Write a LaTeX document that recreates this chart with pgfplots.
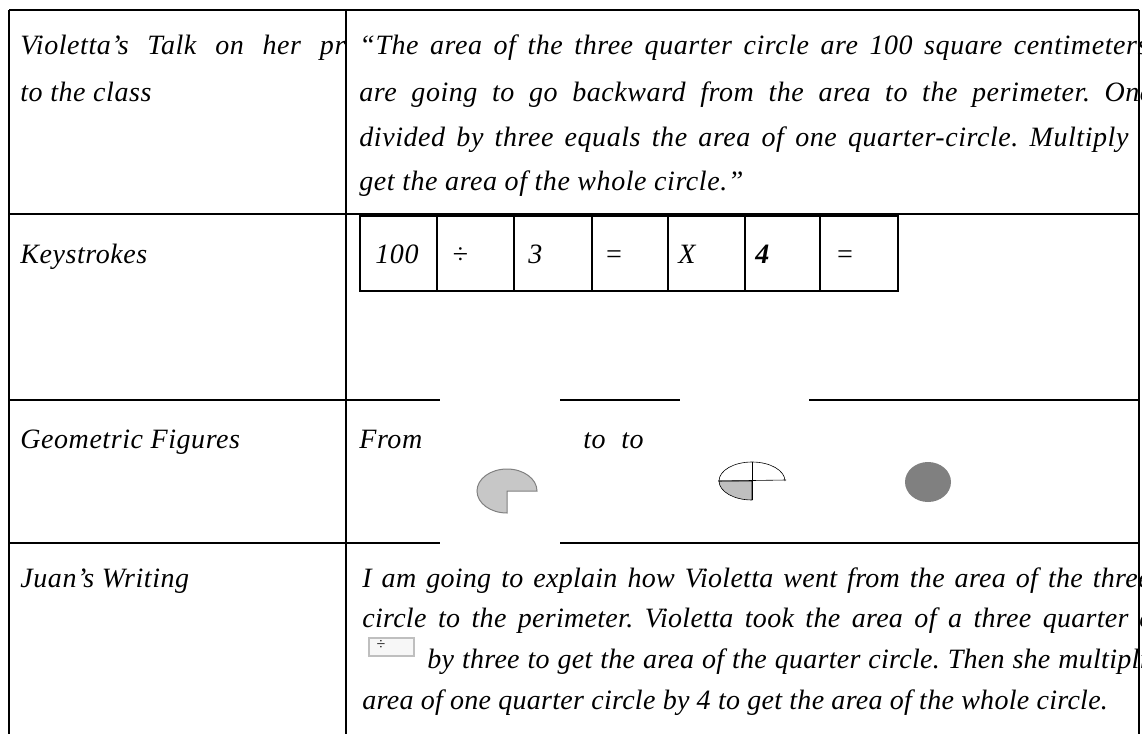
\documentclass[border=0pt]{standalone}
\usepackage{fontspec}
\setmainfont{Liberation Serif}[LetterSpace=2]
\newfontfamily\juanfont{Liberation Serif}[LetterSpace=1]
\usepackage{pgfplots}
\pgfplotsset{compat=1.18}

% px grid: 1 px = 0.5 pt, y measured downward from the top edge
\newcommand{\txt}{\fontsize{14}{17}\selectfont\itshape\frenchspacing}
\newcommand{\jtxt}{\juanfont\fontsize{14}{17}\selectfont\itshape\frenchspacing}

\begin{document}
\begin{tikzpicture}
\begin{axis}[
    width=571pt, height=367pt,
    scale only axis,
    xmin=0, xmax=1142,
    ymin=0, ymax=734,
    y dir=reverse,
    hide axis,
    clip=false,
  ]
  % table rules
  \draw[line width=1.3pt] (axis cs:9,10) -- (axis cs:1139,10);
  \draw[line width=1.3pt] (axis cs:9,10) -- (axis cs:9,734);
  \draw[line width=1.3pt] (axis cs:346,10) -- (axis cs:346,734);
  \draw[line width=1.3pt] (axis cs:1139,10) -- (axis cs:1139,734);
  \draw[line width=1.3pt] (axis cs:9,214) -- (axis cs:1139,214);
  \draw[line width=1.3pt] (axis cs:9,400) -- (axis cs:440,400);
  \draw[line width=1.3pt] (axis cs:560,400) -- (axis cs:680,400);
  \draw[line width=1.3pt] (axis cs:809,400) -- (axis cs:1139,400);
  \draw[line width=1.3pt] (axis cs:9,543) -- (axis cs:440,543);
  \draw[line width=1.3pt] (axis cs:560,543) -- (axis cs:1139,543);

  % row 1
  \begin{scope}
    \clip (axis cs:9,10) rectangle (axis cs:346,214);
    \node[anchor=base west, inner sep=0] at (axis cs:20,54)
      {\txt\makebox[168.5pt][s]{Violetta’s Talk on her pre}};
  \end{scope}
  \node[anchor=base west, inner sep=0] at (axis cs:20,101) {\txt to the class};
  \node[anchor=base west, inner sep=0] at (axis cs:359,54)
    {\txt\makebox[394.5pt][s]{“The area of the three quarter circle are 100 square centimeters}};
  \node[anchor=base west, inner sep=0] at (axis cs:359,101)
    {\txt\makebox[396.5pt][s]{are going to go backward from the area to the perimeter. One}};
  \node[anchor=base west, inner sep=0] at (axis cs:359,146)
    {\txt\makebox[384.5pt][s]{divided by three equals the area of one quarter-circle. Multiply}};
  \node[anchor=base west, inner sep=0] at (axis cs:359,190)
    {\txt get the area of the whole circle.”};

  % row 2: keystrokes
  \node[anchor=base west, inner sep=0] at (axis cs:20,263) {\txt Keystrokes};
  \draw[line width=1pt] (axis cs:360,216) rectangle (axis cs:898,291);
  \pgfplotsinvokeforeach{437,514,592,668,745,820}{
    \draw[line width=1pt] (axis cs:#1,216) -- (axis cs:#1,291);
  }
  \node[anchor=base west, inner sep=0] at (axis cs:375,263) {\txt 100};
  \node[anchor=base west, inner sep=0] at (axis cs:452,263) {\txt ÷};
  \node[anchor=base west, inner sep=0] at (axis cs:528,263) {\txt 3};
  \node[anchor=base west, inner sep=0] at (axis cs:604,263) {\txt =};
  \node[anchor=base west, inner sep=0] at (axis cs:678,263) {\txt X};
  \node[anchor=base west, inner sep=0] at (axis cs:755,263) {\txt\bfseries 4};
  \node[anchor=base west, inner sep=0] at (axis cs:835,263) {\txt =};

  % row 3: geometric figures
  \node[anchor=base west, inner sep=0] at (axis cs:20,448) {\txt Geometric Figures};
  \node[anchor=base west, inner sep=0] at (axis cs:359,448) {\txt From};
  \node[anchor=base west, inner sep=0] at (axis cs:583,448) {\txt to};
  \node[anchor=base west, inner sep=0] at (axis cs:621,448) {\txt to};
  % three-quarter circle
  \filldraw[fill=black!22, draw=black!50, line width=0.5pt]
    (axis cs:507,491) -- ++(15pt,0pt)
    arc[start angle=0, end angle=270, x radius=15pt, y radius=11pt] -- cycle;
  % quarter circle inside the whole
  \filldraw[fill=black!25, draw=black, line width=0.3pt]
    (axis cs:752,481) -- ++(-16.5pt,0pt)
    arc[start angle=180, end angle=270, x radius=16.5pt, y radius=9.5pt] -- cycle;
  \draw[line width=0.3pt] (axis cs:752,481) ++(-16.5pt,0pt)
    arc[start angle=180, end angle=0, x radius=16.5pt, y radius=9.5pt];
  \draw[line width=0.3pt] (axis cs:718,481) -- (axis cs:786,480);
  \draw[line width=0.3pt] (axis cs:752,462) -- (axis cs:752,500);
  % whole circle
  \fill[black!50] (axis cs:928,482) ellipse[x radius=11.5pt, y radius=10pt];

  % row 4: Juan's writing
  \node[anchor=base west, inner sep=0] at (axis cs:20,587) {\txt Juan’s Writing};
  \node[anchor=base west, inner sep=0] at (axis cs:362,587)
    {\jtxt\makebox[394pt][s]{I am going to explain how Violetta went from the area of the three}};
  \node[anchor=base west, inner sep=0] at (axis cs:362,627)
    {\jtxt\makebox[383pt][s]{circle to the perimeter. Violetta took the area of a three quarter}};
  \node[anchor=base west, inner sep=0] at (axis cs:1139,627) {\jtxt c};
  \fill[black!3] (axis cs:369,638) rectangle (axis cs:414,656);
  \draw[black!25, line width=0.6pt] (axis cs:369,638) rectangle (axis cs:414,656);
  \node[inner sep=0, font=\fontsize{8}{8}\selectfont] at (axis cs:381,645) {÷};
  \node[anchor=base west, inner sep=0] at (axis cs:427,668)
    {\jtxt\makebox[360pt][s]{by three to get the area of the quarter circle. Then she multipli}};
  \node[anchor=base west, inner sep=0] at (axis cs:362,709)
    {\jtxt area of one quarter circle by 4 to get the area of the whole circle.};
\end{axis}
\pgfresetboundingbox
\path[use as bounding box] (current axis.south west) rectangle (current axis.north east);
\end{tikzpicture}
\end{document}
